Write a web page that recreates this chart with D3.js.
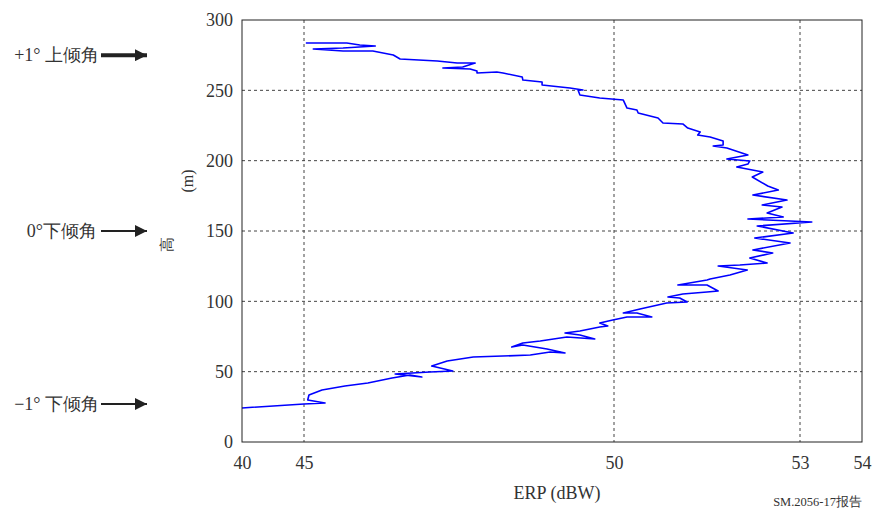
<!DOCTYPE html>
<html>
<head>
<meta charset="utf-8">
<script src="https://cdn.jsdelivr.net/npm/d3@7"></script>
<style>
  body { margin: 0; background: #fff; }
  svg { display: block; }
  text { font-family: "Liberation Serif", "DejaVu Serif", "Times New Roman", serif; fill: #333; }
  .grid line { stroke: #444; stroke-dasharray: 3,3; stroke-width: 1; }
</style>
</head>
<body>
<svg id="chart"></svg>
<script>
// ERP (dBW) and height (m), bottom to top
const erp = [44.00, 45.00, 45.34, 45.06, 45.08, 45.29, 45.66, 46.03, 46.42, 46.71,
  46.90, 46.47, 47.03, 47.40, 47.06, 47.31, 47.73, 48.65, 48.97, 49.21,
  48.92, 48.53, 48.35, 48.53, 48.81, 49.24, 49.69, 49.45, 49.21, 49.45,
  49.77, 49.90, 49.77, 49.98, 50.21, 50.61, 50.37, 50.15, 50.42, 50.85,
  51.18, 51.06, 50.87, 51.11, 51.50, 51.68, 51.50, 51.03, 51.50, 51.55,
  51.87, 52.15, 51.68, 52.03, 52.47, 52.19, 52.56, 52.24, 52.84, 52.27,
  52.89, 52.31, 53.19, 52.16, 52.73, 52.47, 52.71, 52.39, 52.79, 52.24,
  52.65, 52.48, 52.23, 52.40, 51.98, 52.16, 52.19, 51.82, 52.16, 51.82,
  51.60, 51.76, 51.76, 51.55, 51.35, 51.39, 51.19, 51.11, 50.79, 50.71,
  50.39, 50.37, 50.21, 50.15, 49.77, 49.45, 49.42, 49.50, 49.29, 48.84,
  48.84, 48.53, 48.52, 48.21, 48.11, 47.79, 47.79, 47.68, 47.24, 47.56,
  47.76, 47.47, 47.15, 46.55, 46.44, 46.11, 45.63, 45.15, 45.63, 46.15,
  45.90, 45.69, 45.03]
const height = [24.2, 27.0, 27.7, 29.9, 33.4, 37.0, 39.8, 41.9, 45.5, 47.6,
  46.2, 48.3, 49.8, 50.5, 54.0, 57.6, 60.4, 61.8, 64.0, 63.3,
  66.1, 69.0, 67.5, 70.4, 71.8, 74.6, 73.2, 76.1, 77.5, 78.9,
  81.8, 82.5, 84.6, 86.7, 88.9, 88.9, 91.7, 91.7, 94.5, 98.8,
  99.5, 102.4, 103.1, 105.2, 106.6, 107.3, 111.6, 111.6, 115.2, 115.9,
  118.7, 122.3, 125.1, 125.8, 127.2, 130.8, 134.4, 136.5, 141.5, 145.0,
  148.6, 153.6, 156.4, 158.5, 160.0, 162.8, 167.1, 168.5, 172.0, 175.6,
  179.1, 182.0, 188.4, 191.9, 195.5, 197.6, 199.8, 201.2, 204.0, 209.0,
  210.4, 211.1, 214.0, 216.8, 218.2, 220.4, 223.2, 226.1, 226.8, 230.3,
  233.9, 236.0, 237.4, 243.1, 244.5, 246.7, 250.2, 250.2, 251.7, 253.8,
  255.9, 257.3, 259.5, 262.3, 263.0, 262.3, 263.7, 265.2, 265.9, 266.6,
  269.4, 269.4, 270.8, 272.3, 275.1, 278.0, 278.0, 279.4, 280.1, 281.5,
  282.2, 283.6, 283.6]

// the left end of the axis sits at 44 but is printed as "40"
const xTicks = [44, 45, 50, 53, 54]
const xTickLabels = ["40", "45", "50", "53", "54"]
const xGrid = [45, 50, 53]
const yTicks = [0, 50, 100, 150, 200, 250, 300]
const yGrid = [50, 100, 150, 200, 250]

const tiltLabels = ["+1° 上倾角", "0°下倾角", "\u22121° 下倾角"]
const tiltHeights = [275, 150, 27]

const W = 872, H = 511
const M = { top: 20, left: 242, right: 10, bottom: 69 }
const PW = W - M.left - M.right
const PH = H - M.top - M.bottom

const svg = d3.select("#chart").attr("width", W).attr("height", H)

const x = d3.scaleLinear().domain([44, 54]).range([0, PW])
const y = d3.scaleLinear().domain([0, 300]).range([PH, 0])

const g = svg.append("g").attr("transform", `translate(${M.left},${M.top})`)

// dashed grid
g.append("g").attr("class", "grid")
    .selectAll("line").data(xGrid).enter().append("line")
    .attr("x1", d => x(d)).attr("x2", d => x(d))
    .attr("y1", 0).attr("y2", PH)
g.append("g").attr("class", "grid")
    .selectAll("line").data(yGrid).enter().append("line")
    .attr("x1", 0).attr("x2", PW)
    .attr("y1", d => y(d)).attr("y2", d => y(d))

// curve
const line = d3.line().x((d, i) => x(erp[i])).y((d, i) => y(height[i]))
g.append("path")
    .datum(erp)
    .attr("d", line)
    .attr("fill", "none")
    .attr("stroke", "#0000ff")
    .attr("stroke-width", 1.6)
    .attr("stroke-linejoin", "round")

// frame
g.append("rect")
    .attr("width", PW).attr("height", PH)
    .attr("fill", "none").attr("stroke", "#222").attr("stroke-width", 1)

// axes
const xAxis = g.append("g")
    .attr("transform", `translate(0,${PH})`)
    .call(d3.axisBottom(x).tickValues(xTicks).tickSize(0).tickPadding(14)
        .tickFormat((d, i) => xTickLabels[i]))
xAxis.select(".domain").remove()
xAxis.selectAll("text").style("font-size", "18px").attr("fill", "#333")

const yAxis = g.append("g")
    .call(d3.axisLeft(y).tickValues(yTicks).tickSize(0).tickPadding(9))
yAxis.select(".domain").remove()
yAxis.selectAll("text").style("font-size", "18px").attr("fill", "#333")

// axis titles
svg.append("text")
    .attr("x", 557).attr("y", 499)
    .attr("text-anchor", "middle")
    .style("font-size", "18px")
    .text("ERP (dBW)")

svg.append("text")
    .attr("transform", "translate(172,244) rotate(-90)")
    .attr("text-anchor", "middle")
    .style("font-size", "15px").attr("fill", "#666")
    .text("高")
svg.append("text")
    .attr("transform", "translate(193,181) rotate(-90)")
    .attr("text-anchor", "middle")
    .style("font-size", "16px").attr("fill", "#555")
    .text("(m)")

svg.append("text")
    .attr("x", 862).attr("y", 506)
    .attr("text-anchor", "end")
    .style("font-size", "12.5px")
    .text("SM.2056-17报告")

// tilt annotations with arrows
const defs = svg.append("defs")
defs.append("marker")
    .attr("id", "head")
    .attr("viewBox", "0 0 10 10")
    .attr("refX", 10).attr("refY", 5)
    .attr("markerUnits", "userSpaceOnUse")
    .attr("markerWidth", 16).attr("markerHeight", 12)
    .attr("orient", "auto")
    .append("path").attr("d", "M0,0 L10,5 L0,10 Z").attr("fill", "#222")

const ann = svg.append("g")
ann.selectAll("text").data(tiltLabels).enter().append("text")
    .attr("x", (d, i) => i === 1 ? 97 : 99)
    .attr("y", (d, i) => M.top + y(tiltHeights[i]) + 6)
    .attr("text-anchor", "end")
    .style("font-size", "18px").attr("fill", "#444")
    .text(d => d)
ann.selectAll("line").data(tiltHeights).enter().append("line")
    .attr("x1", 101).attr("x2", 147)
    .attr("y1", d => M.top + y(d)).attr("y2", d => M.top + y(d))
    .attr("stroke", "#222")
    .attr("stroke-width", (d, i) => i === 0 ? 4 : 2)
    .attr("marker-end", "url(#head)")
</script>
</body>
</html>
